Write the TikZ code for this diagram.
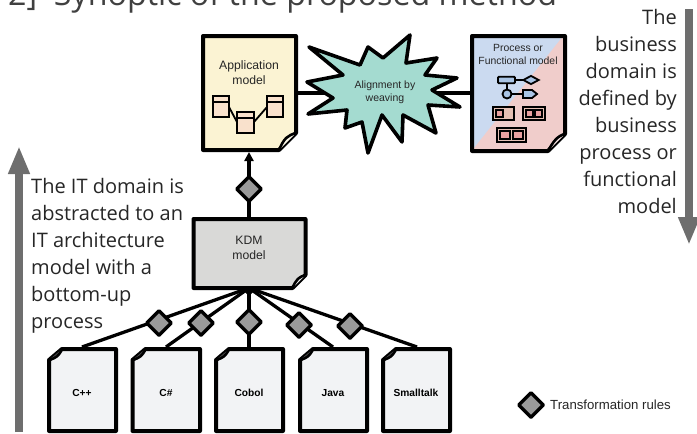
\documentclass[tikz,border=0pt]{standalone}
\usepackage{fontspec}
\setmainfont{Open Sans}
\newfontfamily\labelfont{Liberation Sans}
\usepackage{tikz}
\usetikzlibrary{shapes.geometric,arrows.meta}
\definecolor{arrowgrey}{HTML}{6E6E6E}
\definecolor{rulegrey}{HTML}{9A9A9A}
\definecolor{appyellow}{HTML}{FBF3D3}
\definecolor{boxpeach}{HTML}{F9E1CC}
\definecolor{kdmgrey}{HTML}{D9D9D7}
\definecolor{srcwhite}{HTML}{F2F3F5}
\definecolor{starteal}{HTML}{A4DBD0}
\definecolor{procblue}{HTML}{CBDAF0}
\definecolor{procpink}{HTML}{F0CDCB}
\definecolor{procbar}{HTML}{A9C4E4}
\definecolor{procred}{HTML}{E8A0A0}
\definecolor{procrose}{HTML}{E5C0B4}

% pixels of the reference
\newcommand{\docpage}[7]{% name, left, top, right, bottom, fill, fold
  \draw[pagelinecolor, fill=#6] (#2,#3) -- (#4,#3) -- (#4,#5-#7) -- (#4-#7,#5) -- (#2,#5) -- cycle;
  \draw[pagelinesmall, fill=#6!50!white] (#4,#5-#7) .. controls (#4-#7/2,#5-#7*0.85) and (#4-#7*0.7,#5-#7*0.7) .. (#4-#7,#5);
  \coordinate (#1) at ({(#2+#4)/2},{(#3+#5)/2});
}
\newcommand{\srcpage}[5]{% name, left, top, right, bottom
  \draw[pagelinecolor, fill=srcwhite] (#2+13,#3) -- (#4,#3) -- (#4,#5) -- (#2,#5) -- (#2,#3+11) -- cycle;
  \draw[pagelinesmall, fill=black!70] (#2+13,#3) .. controls (#2+10,#3+7) and (#2+7,#3+9) .. (#2,#3+11);
  \coordinate (#1) at ({(#2+#4)/2},{(#3+#5)/2});
}
\newcommand{\tablebox}[4]{% left, top, right, bottom
  \draw[line width=1.8pt, fill=boxpeach] (#1,#2) rectangle (#3,#4);
  \draw[line width=1.2pt] (#1,#2+6) -- (#3,#2+6);
}

\begin{document}
\begin{tikzpicture}[x=1pt, y=-1pt,
    pagelinecolor/.style = {line width=4pt, line join=round, black},
    pagelinesmall/.style = {line width=2.6pt, line join=round},
    link/.style = {line width=3.3pt},
    thinlink/.style = {line width=1.8pt},
    rule/.style = {draw, diamond, line width=3.4pt, line join=round, fill=rulegrey, minimum size=26pt, inner sep=0pt},
    bigarrow/.style = {line width=8pt, arrowgrey, -{Triangle[length=28pt,width=20pt]}},
    story/.style = {font=\fontsize{20}{27}\selectfont, text=black!85, inner sep=0pt},
    small/.style = {font=\labelfont\fontsize{12.2}{14.7}\selectfont, text=black!85, align=center, inner sep=0pt},
    srclabel/.style = {font=\labelfont\bfseries\fontsize{10.2}{12}\selectfont, inner sep=0pt},
    procbit/.style = {draw, line width=1.8pt, fill=procbar, inner sep=0pt}]

    \useasboundingbox (0,0) rectangle (697,434);
    \clip (0,0) rectangle (697,434);

    % title, cut by the top edge
    \node[font=\fontsize{32.2}{36}\selectfont, text=black!75, anchor=base west, inner sep=0pt] (title) at (8,5) {2]\ \ Synoptic of the proposed method};

    % big arrows
    \coordinate (upstart) at (19,432);
    \coordinate (upend) at (19,146);
    \draw[bigarrow] (upstart) -- (upend);
    \coordinate (downstart) at (689,9);
    \coordinate (downend) at (689,245);
    \draw[bigarrow] (downstart) -- (downend);

    % connectors first, boxes on top
    \coordinate (appbottom) at (249,152);
    \coordinate (kdmtop) at (249,220);
    \coordinate (kdmbottom) at (249,288);
    \coordinate (appright) at (296,93);
    \coordinate (procleft) at (472,93);
    \coordinate (cpptop) at (82,347);
    \coordinate (cstop) at (166,347);
    \coordinate (coboltop) at (249,347);
    \coordinate (javatop) at (333,347);
    \coordinate (smalltop) at (417,347);
    \draw[link] (appright) -- (procleft);
    \draw[link] (kdmbottom) -- (cpptop);
    \draw[link] (kdmbottom) -- (cstop);
    \draw[link] (kdmbottom) -- (coboltop);
    \draw[link] (kdmbottom) -- (javatop);
    \draw[link] (kdmbottom) -- (smalltop);
    \draw[link, -{Triangle[length=9pt,width=9pt]}] (kdmtop) -- (appbottom);
    \fill (kdmbottom) ++(-8,0) -- ++(16,0) -- ++(-8,8) -- cycle;

    % application model
    \docpage{app}{203}{36}{296}{150}{appyellow}{17}
    \node[small] (applabel) at (249,72.5) {Application\\model};
    \tablebox{213}{96}{229}{117}
    \tablebox{237}{112}{254}{133}
    \tablebox{267}{96}{283}{117}
    \draw[thinlink] (229,107) -- (237,122);
    \draw[thinlink] (254,122) -- (267,107);

    % alignment star
    \draw[line width=3.6pt, line join=round, fill=starteal] (309,47) -- (360,65) -- (368,47) -- (383,58) -- (410,35)
      -- (406,63) -- (437,58) -- (425,75) -- (457,78) -- (432,90) -- (460,107) -- (428,105) -- (436,133)
      -- (403,115) -- (402,142) -- (382,115) -- (368,153) -- (362,122) -- (345,128) -- (347,110) -- (308,114)
      -- (333,98) -- (307,82) -- (343,75) -- cycle;
    \node[small, font=\labelfont\fontsize{10.5}{13}\selectfont] (alignlabel) at (385,92) {Alignment by\\weaving};

    % process model
    \fill[procpink] (473,36) -- (564,36) -- (564,135) -- (548,150) -- (473,150) -- cycle;
    \fill[procblue] (473,36) -- (563,36) -- (473,149) -- cycle;
    \draw[pagelinecolor] (472,36) -- (565,36) -- (565,134) -- (548,151) -- (472,151) -- cycle;
    \draw[pagelinesmall, fill=procpink!50!white] (565,134) .. controls (557,136) and (553,142) .. (548,151);
    \node[small, font=\labelfont\fontsize{10.4}{12.5}\selectfont] (proclabel) at (518,54.5) {Process or\\Functional model};
    \draw[thinlink] (507,80) -- (531,80);
    \draw[thinlink] (507,80) -- (507,94);
    \draw[thinlink] (507,94) -- (523,94);
    \node[procbit, rounded corners=1pt, minimum width=17pt, minimum height=6.5pt] (procrect) at (506.5,80) {};
    \node[procbit, diamond, aspect=2, minimum width=16pt, minimum height=9pt] (procdia) at (531,80) {};
    \node[procbit, circle, minimum size=9pt] (proccirc) at (507,94) {};
    \draw[procbit] (523,90) -- (532,90) -- (537,94) -- (532,98) -- (523,98) -- cycle;
    \draw[line width=1.8pt, fill=procrose] (493,107) rectangle (514,120);
    \draw[line width=1.2pt, fill=procred] (496,110) rectangle (503,117);
    \draw[line width=1.8pt, fill=procrose] (523,107) rectangle (545,120);
    \draw[line width=1.2pt, fill=procred] (526,110) rectangle (533,117);
    \draw[line width=1.2pt, fill=procred] (535,110) rectangle (542,117);
    \draw[line width=1.8pt, fill=procrose] (497,128) rectangle (526,142);
    \draw[line width=1.2pt, fill=procred] (500,131) rectangle (510,139);
    \draw[line width=1.2pt, fill=procred] (513,131) rectangle (523,139);

    % kdm model
    \docpage{kdm}{193.5}{219}{305.5}{288}{kdmgrey}{13}
    \node[small] (kdmlabel) at (249,248) {KDM\\model};

    % source files
    \srcpage{cpp}{49}{349}{116}{431}
    \srcpage{cs}{132.5}{349}{200}{431}
    \srcpage{cobol}{216}{349}{283}{431}
    \srcpage{java}{300}{349}{367}{431}
    \srcpage{smalltalk}{383}{349}{450}{431}
    \node[srclabel] (cpplabel) at (82,393) {C++};
    \node[srclabel] (cslabel) at (166,393) {C\#};
    \node[srclabel] (cobollabel) at (249,393) {Cobol};
    \node[srclabel] (javalabel) at (333,393) {Java};
    \node[srclabel] (smalllabel) at (416,393) {Smalltalk};

    % transformation rules
    \node[rule] (rule0) at (249,189) {};
    \node[rule] (rule1) at (159,323) {};
    \node[rule] (rule2) at (201,323) {};
    \node[rule] (rule3) at (249,322) {};
    \node[rule] (rule4) at (299,325) {};
    \node[rule] (rule5) at (350,326) {};
    \node[rule] (ruleleg) at (531,405) {};
    \node[small, font=\labelfont\fontsize{13.2}{15}\selectfont, anchor=west] (ruletext) at (550,405) {Transformation rules};

    % texts beside the arrows
    \node[story, align=left, anchor=north west] (itdomain) at (31,178.5) {The IT domain is\\abstracted to an\\IT architecture\\model with a\\bottom-up\\process};
    \node[story, align=right, anchor=north east] (bizdomain) at (677,9) {The\\business\\domain is\\defined by\\business\\process or\\functional\\model};
\end{tikzpicture}
\end{document}
